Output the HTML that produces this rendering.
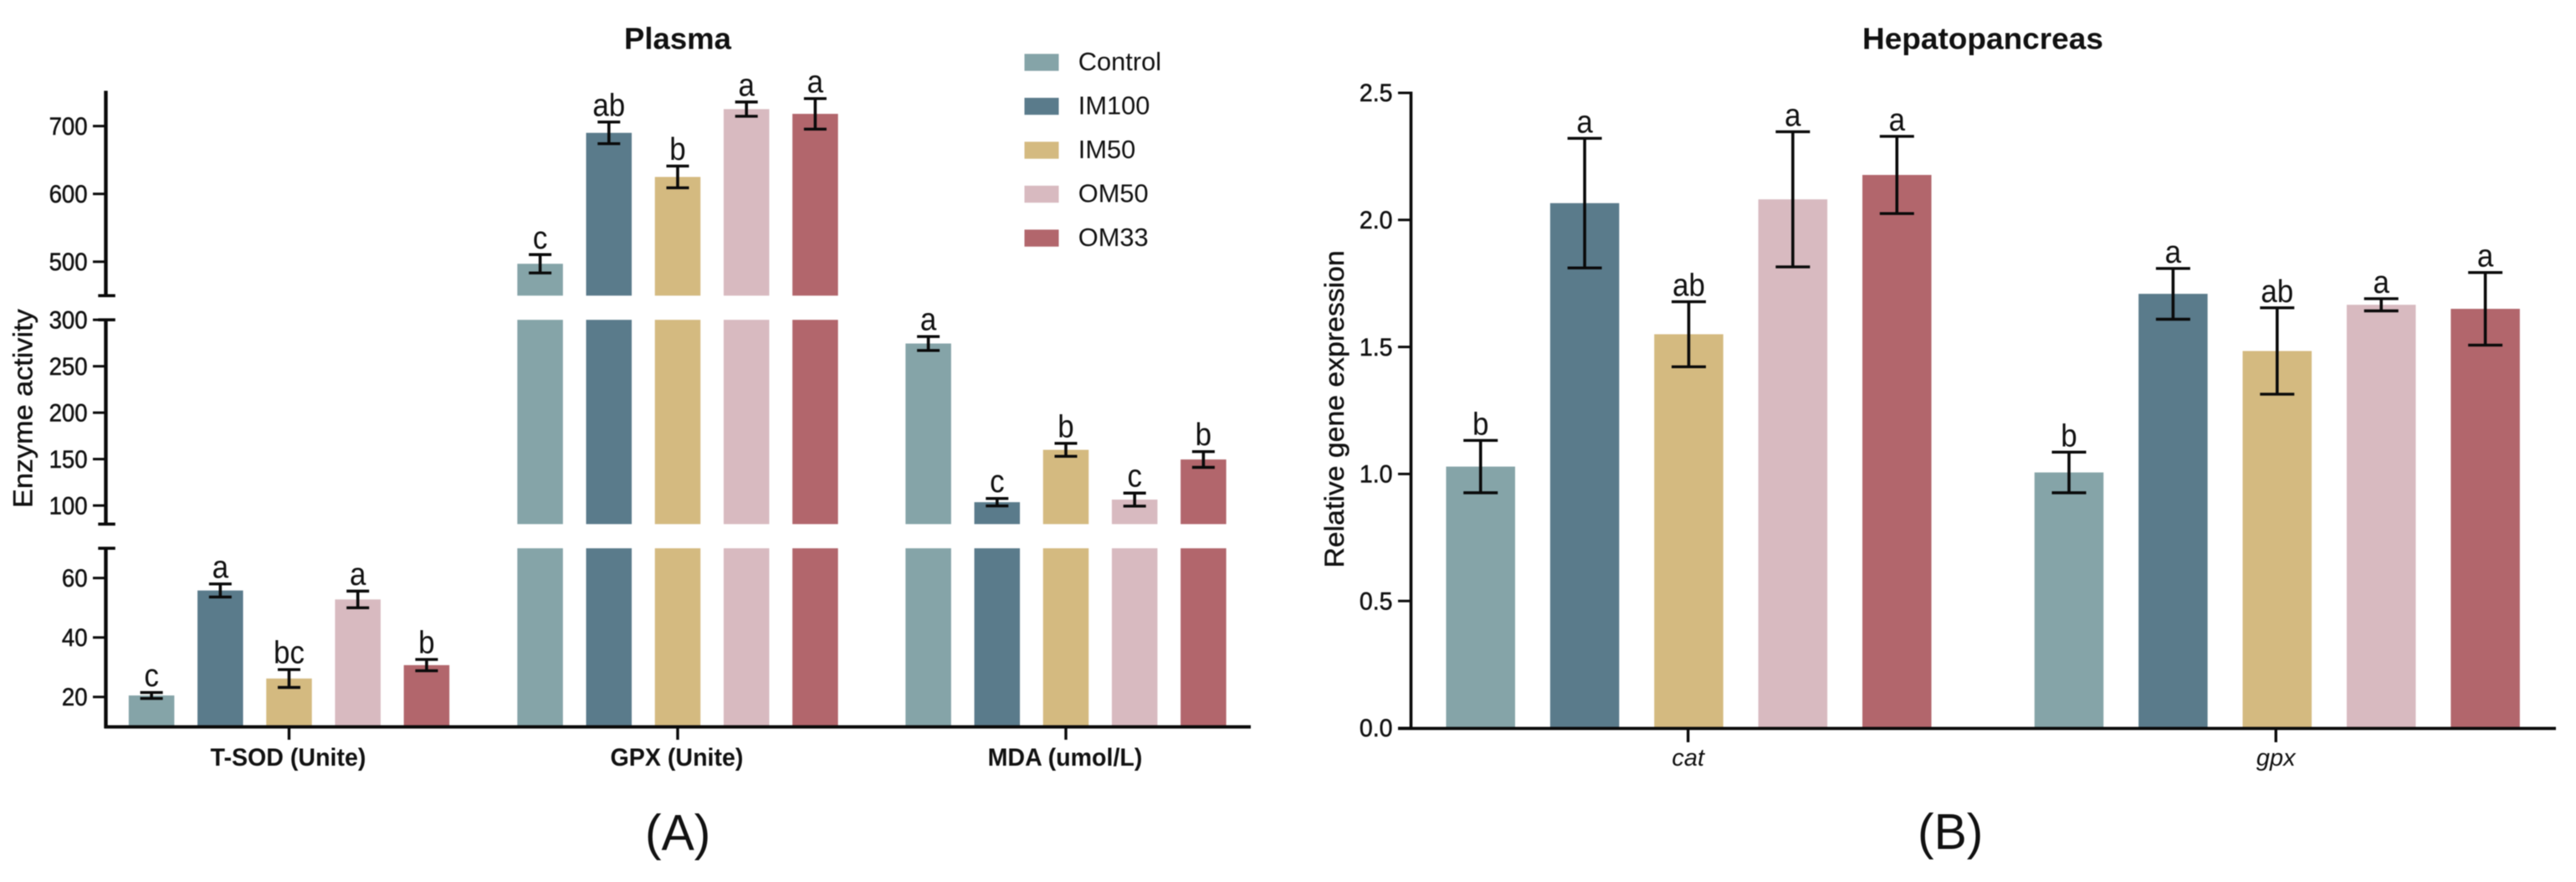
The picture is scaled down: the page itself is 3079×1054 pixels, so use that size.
<!DOCTYPE html>
<html lang="en">
<head>
<meta charset="utf-8">
<title>Plasma and Hepatopancreas enzyme charts</title>
<style>
  html, body { margin: 0; padding: 0; background: #fff; }
  svg { display: block; filter: blur(0.5px); }
  text { font-family: "Liberation Sans", Arial, sans-serif; fill: #111; }
</style>
</head>
<body>
<svg id="figure" xmlns="http://www.w3.org/2000/svg" width="3079" height="1054" viewBox="0 0 3079 1054">
  <rect x="0" y="0" width="3079" height="1054" fill="#ffffff"/>
  <text transform="translate(746,58.5) scale(1.015,1)" font-size="36" font-weight="700">Plasma</text>
  <text transform="translate(2226,58.5) scale(1.028,1)" font-size="36" font-weight="700">Hepatopancreas</text>
  <text transform="translate(38.5,607) rotate(-90) scale(1.07,1)" font-size="32" stroke="#111" stroke-width="0.4">Enzyme activity</text>
  <text transform="translate(1606,678.5) rotate(-90) scale(1.056,1)" font-size="32" stroke="#111" stroke-width="0.4">Relative gene expression</text>
  <text transform="translate(771,1015.5) scale(0.98,1)" font-size="60">(A)</text>
  <text transform="translate(2292,1014.5) scale(0.98,1)" font-size="60">(B)</text>
  <g id="panel-a"></g>
  <g id="panel-b"></g>
  <g id="legend"></g>
</svg>
<script>
const seriesNames = ['Control', 'IM100', 'IM50', 'OM50', 'OM33'];
const seriesColors = ['#85a4a8', '#5a7b8b', '#d4ba80', '#d8bac0', '#b2666c'];

const plasmaCategories = ['T-SOD (Unite)', 'GPX (Unite)', 'MDA (umol/L)'];
const sodValues = [20.5, 55.8, 26.2, 52.8, 30.7];
const sodErrors = [1, 2.2, 3, 2.8, 1.9];
const sodLetters = ['c', 'a', 'bc', 'a', 'b'];
const gpxValues = [497, 690, 625, 725, 718];
const gpxErrors = [13.5, 16, 16, 10.5, 22.5];
const gpxLetters = ['c', 'ab', 'b', 'a', 'a'];
const mdaValues = [274.5, 103.6, 160, 106.4, 149.6];
const mdaErrors = [7.5, 4, 7, 7, 8.5];
const mdaLetters = ['a', 'c', 'b', 'c', 'b'];
const plasmaTicksUpper = [500, 600, 700];
const plasmaTicksMiddle = [100, 150, 200, 250, 300];
const plasmaTicksLower = [20, 40, 60];

const geneCategories = ['cat', 'gpx'];
const catValues = [1.029, 2.066, 1.55, 2.081, 2.177];
const catErrors = [0.103, 0.255, 0.128, 0.266, 0.152];
const catLetters = ['b', 'a', 'ab', 'a', 'a'];
const gpxGeneValues = [1.006, 1.709, 1.484, 1.666, 1.65];
const gpxGeneErrors = [0.08, 0.1, 0.17, 0.024, 0.143];
const gpxGeneLetters = ['b', 'a', 'ab', 'a', 'a'];
const geneTicks = [0, 0.5, 1, 1.5, 2, 2.5];

const NS = 'http://www.w3.org/2000/svg';

function mark(parent, tag, attrs, name) {
  const node = document.createElementNS(NS, tag);
  for (const key in attrs) node.setAttribute(key, attrs[key]);
  
  
  parent.appendChild(node);
  return node;
}
function line(parent, x1, y1, x2, y2, w, name) {
  return mark(parent, 'line', { x1: x1, y1: y1, x2: x2, y2: y2, stroke: '#0a0a0a', 'stroke-width': w }, name);
}
function label(parent, x, y, str, size, sx, anchor, extra, name) {
  const attrs = Object.assign({ transform: 'translate(' + x + ',' + y + ') scale(' + sx + ',1)', 'font-size': size, 'text-anchor': anchor }, extra || {});
  const node = mark(parent, 'text', attrs, name);
  node.textContent = str;
  return node;
}
function slug(str) {
  return String(str).toLowerCase().replace(/[^a-z0-9]+/g, '-').replace(/^-|-$/g, '');
}

/* ---------- Panel A: broken axis ---------- */
const panelA = document.getElementById('panel-a');
const axisSegments = [
  { min: 10, max: 70, yMin: 868.4, yMax: 655.2 },
  { min: 80, max: 300, yMin: 626.3, yMax: 382.2 },
  { min: 450, max: 752, yMin: 353.3, yMax: 108.5 }
];
function segmentFor(v) {
  for (const s of axisSegments) if (v <= s.max) return s;
  return axisSegments[axisSegments.length - 1];
}
function segY(s, v) {
  return s.yMin + (Math.max(s.min, Math.min(s.max, v)) - s.min) * (s.yMax - s.yMin) / (s.max - s.min);
}
function yA(v) { return segY(segmentFor(v), v); }

const axisAX = 126.5;
const centersA = [345.5, 810, 1274];
const pitchA = 82.2;
const barWidthA = 54.5;

const plasmaValues = [sodValues, gpxValues, mdaValues];
const plasmaErrors = [sodErrors, gpxErrors, mdaErrors];
const plasmaLetters = [sodLetters, gpxLetters, mdaLetters];

plasmaCategories.forEach(function (cat, g) {
  seriesNames.forEach(function (sname, i) {
    const cx = centersA[g] + (i - 2) * pitchA;
    const val = plasmaValues[g][i];
    axisSegments.forEach(function (s) {
      if (val <= s.min) return;
      const top = segY(s, val);
      mark(panelA, 'rect', { x: cx - barWidthA / 2, y: top, width: barWidthA, height: s.yMin - top, fill: seriesColors[i] },
        'bar-' + slug(cat) + '-' + slug(sname));
    });
  });
});
plasmaCategories.forEach(function (cat, g) {
  seriesNames.forEach(function (sname, i) {
    const cx = centersA[g] + (i - 2) * pitchA;
    const val = plasmaValues[g][i], err = plasmaErrors[g][i];
    const yTop = yA(val + err), yBot = yA(val - err);
    line(panelA, cx, yTop, cx, yBot, 3.6, 'error-bar-' + slug(cat) + '-' + slug(sname));
    line(panelA, cx - 13.5, yTop, cx + 13.5, yTop, 3.4, 'error-cap-upper');
    line(panelA, cx - 13.5, yBot, cx + 13.5, yBot, 3.4, 'error-cap-lower');
    label(panelA, cx, yTop - 7.5, plasmaLetters[g][i], 38, 0.92, 'middle', null, 'significance-letter');
  });
});

/* axis lines */
line(panelA, axisAX, 108.5, axisAX, 355, 4.4, 'y-axis-upper');
line(panelA, axisAX, 380.5, axisAX, 628, 4.4, 'y-axis-middle');
line(panelA, axisAX, 653.5, axisAX, 870.5, 4.4, 'y-axis-lower');
[353.3, 382.2, 626.3, 655.2].forEach(function (y) {
  line(panelA, 117.3, y, 137.8, y, 3.6, 'axis-break-cap');
});
line(panelA, 125, 868.6, 1495, 868.6, 4, 'x-axis');

[plasmaTicksUpper, plasmaTicksMiddle, plasmaTicksLower].forEach(function (ticks) {
  ticks.forEach(function (t) {
    const y = yA(t);
    line(panelA, 111, y, axisAX, y, 3, 'y-tick-' + t);
    label(panelA, 104.6, y + 10.3, String(t), 30, 0.92, 'end', { stroke: '#111', 'stroke-width': 0.5 }, 'y-tick-label-' + t);
  });
});
plasmaCategories.forEach(function (cat, g) {
  line(panelA, centersA[g], 868, centersA[g], 884, 3.4, 'x-tick-' + slug(cat));
  label(panelA, centersA[g] - 1, 915, cat, 29.5, 0.97, 'middle', { 'font-weight': 700 }, 'x-label-' + slug(cat));
});

/* ---------- Panel B ---------- */
const panelB = document.getElementById('panel-b');
const baseY = 870;
const scaleB = 303.6;
function yB(v) { return baseY - v * scaleB; }
const axisBX = 1686.5;
const centersB = [2018.5, 2721.8];
const pitchB = 124.4;
const barWidthB = 82.5;
const geneValues = [catValues, gpxGeneValues];
const geneErrors = [catErrors, gpxGeneErrors];
const geneLetters = [catLetters, gpxGeneLetters];

geneCategories.forEach(function (cat, g) {
  seriesNames.forEach(function (sname, i) {
    const cx = centersB[g] + (i - 2) * pitchB;
    const top = yB(geneValues[g][i]);
    mark(panelB, 'rect', { x: cx - barWidthB / 2, y: top, width: barWidthB, height: baseY - top, fill: seriesColors[i] },
      'bar-' + cat + '-' + slug(sname));
  });
});
geneCategories.forEach(function (cat, g) {
  seriesNames.forEach(function (sname, i) {
    const cx = centersB[g] + (i - 2) * pitchB;
    const yTop = yB(geneValues[g][i] + geneErrors[g][i]);
    const yBot = yB(geneValues[g][i] - geneErrors[g][i]);
    line(panelB, cx, yTop, cx, yBot, 3.6, 'error-bar-' + cat + '-' + slug(sname));
    line(panelB, cx - 20.5, yTop, cx + 20.5, yTop, 3.4, 'error-cap-upper');
    line(panelB, cx - 20.5, yBot, cx + 20.5, yBot, 3.4, 'error-cap-lower');
    label(panelB, cx, yTop - 7, geneLetters[g][i], 38, 0.92, 'middle', null, 'significance-letter');
  });
});
line(panelB, axisBX, yB(2.5) - 1.5, axisBX, baseY + 2, 3.6, 'y-axis');
line(panelB, 1671, baseY + 0.5, 3055, baseY + 0.5, 3.8, 'x-axis');
geneTicks.forEach(function (t) {
  const y = yB(t);
  line(panelB, 1671, y, axisBX, y, 3, 'y-tick-' + slug(t.toFixed(1)));
  label(panelB, 1664.5, y + 10.2, t.toFixed(1), 30, 0.95, 'end', { stroke: '#111', 'stroke-width': 0.5 }, 'y-tick-label-' + slug(t.toFixed(1)));
});
const geneTickX = [2017.7, 2720.3];
geneCategories.forEach(function (cat, g) {
  line(panelB, geneTickX[g], baseY, geneTickX[g], 887, 3.4, 'x-tick-' + cat);
  label(panelB, geneTickX[g], 915, cat, 29, 1, 'middle', { 'font-style': 'italic', fill: '#222' }, 'x-label-' + cat);
});

/* ---------- Legend ---------- */
const legend = document.getElementById('legend');
seriesNames.forEach(function (sname, i) {
  const top = 64.4 + i * 52.5;
  mark(legend, 'rect', { x: 1224.5, y: top, width: 41, height: 20.3, fill: seriesColors[i] }, 'legend-swatch-' + slug(sname));
  label(legend, 1288.8, top + 19.6, sname, 30.5, 1.01, 'start', { fill: '#222' }, 'legend-entry-' + slug(sname));
});
</script>
</body>
</html>
